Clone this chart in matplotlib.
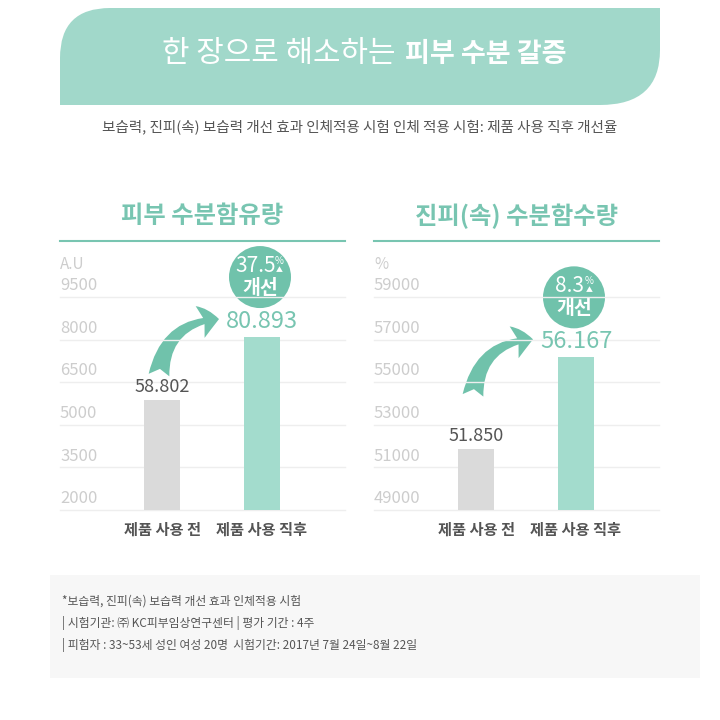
import matplotlib.pyplot as plt
from matplotlib.patches import Circle, FancyArrowPatch, PathPatch, Rectangle
from matplotlib.path import Path

plt.rcParams['font.family'] = ['Noto Sans CJK KR', 'DejaVu Sans']

# --- data ---
title_plain = '한 장으로 해소하는'
title_bold = '피부 수분 갈증'
subtitle = '보습력, 진피(속) 보습력 개선 효과 인체적용 시험 인체 적용 시험: 제품 사용 직후 개선율'

categories = ['제품 사용 전', '제품 사용 직후']

moist_title = '피부 수분함유량'
moist_unit = 'A.U'
moist_values = [5880.2, 8089.3]
moist_labels = ['58.802', '80.893']
moist_ticks = [2000, 3500, 5000, 6500, 8000, 9500]
moist_gain = '37.5'

dermis_title = '진피(속) 수분함수량'
dermis_unit = '%'
dermis_values = [51850, 56167]
dermis_labels = ['51.850', '56.167']
dermis_ticks = [49000, 51000, 53000, 55000, 57000, 59000]
dermis_gain = '8.3'

notes = ['*보습력, 진피(속) 보습력 개선 효과 인체적용 시험',
         '| 시험기관: ㈜ KC피부임상연구센터 | 평가 기간 : 4주',
         '| 피험자 : 33~53세 성인 여성 20명  시험기간: 2017년 7월 24일~8월 22일']

# --- colours ---
header_teal = '#a1d8ca'
title_teal = '#78c5b1'
bar_teal = '#a3dccd'
bar_gray = '#dadada'
badge_teal = '#70c2ab'
tick_gray = '#cdcdcd'
grid_gray = '#eeeeee'
text_dark = '#555555'

W = 720
fig = plt.figure(figsize=(7.2, 7.2), dpi=100)

# background layer in pixel coordinates (y down)
bg = fig.add_axes([0, 0, 1, 1])
bg.set_xlim(0, W)
bg.set_ylim(W, 0)
bg.axis('off')

# header banner with rounded top-left and bottom-right corners
verts = [(60, 105), (60, 58), (60, 8), (110, 8), (660, 8), (660, 50),
         (660, 105), (600, 105), (60, 105)]
codes = [Path.MOVETO, Path.LINETO, Path.CURVE3, Path.CURVE3, Path.LINETO,
         Path.LINETO, Path.CURVE3, Path.CURVE3, Path.CLOSEPOLY]
bg.add_patch(PathPatch(Path(verts, codes), fc=header_teal, ec='none'))
bg.text(396, 54, title_plain, ha='right', va='center', color='white', fontsize=21.5)
bg.text(405, 54, title_bold, ha='left', va='center', color='white', fontsize=19.5,
        fontweight='bold')
bg.text(360, 127, subtitle, ha='center', va='center', color=text_dark, fontsize=10.5)

# footer box
bg.add_patch(Rectangle((50, 575), 650, 103, fc='#f7f7f7', ec='none'))
for i, line in enumerate(notes):
    bg.text(62, 601 + i * 22, line, ha='left', va='center', color=text_dark, fontsize=8.5)


def draw_panel(left, title, unit, values, labels, ticks, gain):
    ax = fig.add_axes([left / W, (W - 510) / W, 285 / W, 213 / W])
    ax.set_xlim(-1.02, 1.83)
    ax.set_ylim(ticks[0], ticks[-1])
    ax.axis('off')
    for t in ticks:
        ax.axhline(t, color=grid_gray, lw=1, zorder=0, clip_on=False)
        ax.annotate(f'{t}', xy=(0, t), xycoords=('axes fraction', 'data'),
                    xytext=(0, 2), textcoords='offset points', ha='left', va='bottom',
                    color=tick_gray, fontsize=12, fontweight='light')
    ax.annotate(unit, xy=(0, ticks[-1]), xycoords=('axes fraction', 'data'),
                xytext=(0, 17), textcoords='offset points', ha='left', va='bottom',
                color=tick_gray, fontsize=11, fontweight='light')
    ax.bar([0, 1], values, width=0.36, color=[bar_gray, bar_teal], zorder=2)
    ax.annotate(labels[0], xy=(0, values[0]), xytext=(0, 3), textcoords='offset points',
                ha='center', va='bottom', color=text_dark, fontsize=13)
    ax.annotate(labels[1], xy=(1, values[1]), xytext=(0, 3), textcoords='offset points',
                ha='center', va='bottom', color=title_teal, fontsize=17)
    for i, cat in enumerate(categories):
        ax.annotate(cat, xy=(i, ticks[0]), xytext=(0, -14), textcoords='offset points',
                    ha='center', va='center', color=text_dark, fontsize=11,
                    fontweight='bold', annotation_clip=False)

    # panel title and rule
    cx = left + 142.5
    bg.text(cx, 216, title, ha='center', va='center', color=title_teal, fontsize=17.5,
            fontweight='bold')
    bg.plot([left, left + 285], [241, 241], color=title_teal, lw=1.5)

    # positions of bar tops in background pixel coordinates
    fig.canvas.draw()
    tx, ty = ax.transData.transform((1, values[1]))
    tx, ty = tx * W / fig.bbox.width, W - ty * W / fig.bbox.height

    # badge
    by = ty - 60
    bg.add_patch(Circle((tx - 2, by), 31, fc=badge_teal, ec='none', zorder=3))
    bg.text(tx - 6, by - 11, gain, ha='center', va='center', color='white',
            fontsize=15, fontweight='light', zorder=4)
    num_w = 9.5 * len(gain) * 0.9
    bg.text(tx - 6 + num_w / 2 + 6, by - 16, '%', ha='center', va='center', color='white',
            fontsize=7, zorder=4)
    bg.text(tx - 6 + num_w / 2 + 6, by - 7, '▲', ha='center', va='center', color='white',
            fontsize=5, zorder=4)
    bg.text(tx - 2, by + 11, '개선', ha='center', va='center', color='white',
            fontsize=14, fontweight='bold', zorder=4)

    # curved arrow
    tip = (tx - 43, ty - 18)
    tail = (tip[0] - 60, tip[1] + 56)
    arrow = FancyArrowPatch(tail, tip, connectionstyle='arc3,rad=-0.42',
                            arrowstyle='fancy,head_length=0.55,head_width=0.95,tail_width=0.6',
                            mutation_scale=25, fc=badge_teal, ec='none', zorder=3,
                            shrinkA=0, shrinkB=0)
    bg.add_patch(arrow)


draw_panel(60, moist_title, moist_unit, moist_values, moist_labels, moist_ticks, moist_gain)
draw_panel(374, dermis_title, dermis_unit, dermis_values, dermis_labels, dermis_ticks,
           dermis_gain)

fig.savefig('out.png', dpi=100, facecolor='white')
